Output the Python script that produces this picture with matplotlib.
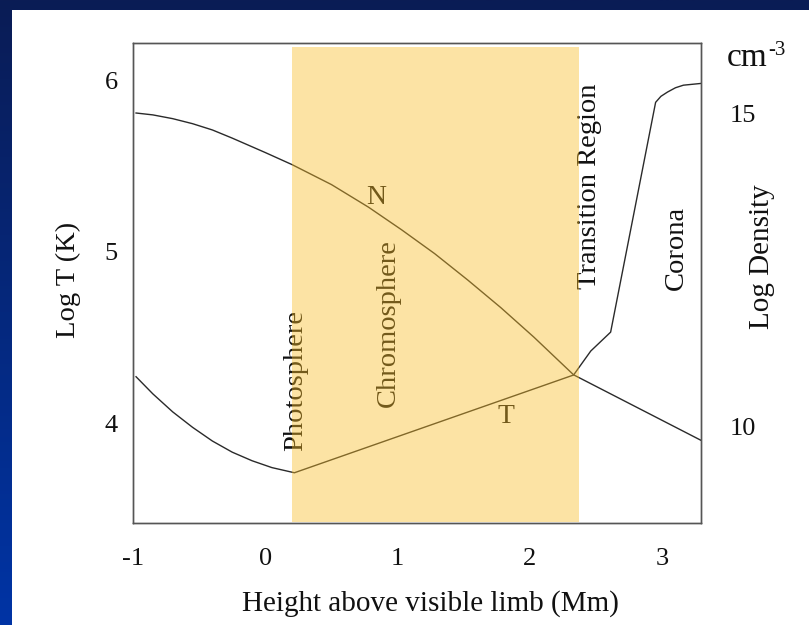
import numpy as np
import matplotlib
matplotlib.use("Agg")
import matplotlib.pyplot as plt
from matplotlib.patches import Rectangle

# ---- data ----
t_height = [-0.977, -0.85, -0.70, -0.55, -0.40, -0.25, -0.10, 0.05, 0.22,
            2.33, 2.46, 2.61, 2.95, 2.99, 3.04, 3.10, 3.16, 3.29]
t_logT = [4.27, 4.17, 4.065, 3.975, 3.895, 3.83, 3.78, 3.74, 3.71,
          4.28, 4.42, 4.53, 5.87, 5.905, 5.93, 5.955, 5.97, 5.98]

n_height = [-0.977, -0.85, -0.70, -0.55, -0.40, -0.25, 0.0, 0.20, 0.50, 0.78,
            1.03, 1.28, 1.53, 1.78, 2.03, 2.33, 3.29]
n_logdens = [15.00, 14.97, 14.91, 14.83, 14.73, 14.60, 14.37, 14.18, 13.86, 13.50,
             13.14, 12.76, 12.34, 11.90, 11.43, 10.83, 9.79]

x_ticks = [-1, 0, 1, 2, 3]
x_ticklabels = ["-1", "0", "1", "2", "3"]
left_ticks = [4, 5, 6]
right_ticks = [10, 15]

chromo_span = (0.203, 2.368)

region_labels = ["Photosphere", "Chromosphere", "Transition Region", "Corona"]
region_pos = [(0.23, 4.25), (0.93, 4.58), (2.45, 5.38), (3.11, 5.02)]

W, H = 809, 625
plt.rcParams['font.family'] = ['Liberation Serif', 'DejaVu Serif']

fig = plt.figure(figsize=(W / 100, H / 100), dpi=100)

# background: navy gradient with white panel
bg = fig.add_axes([0, 0, 1, 1], zorder=-10)
grad = np.linspace(0, 1, 256).reshape(-1, 1)
top = np.array([10, 28, 85]) / 255
bot = np.array([0, 52, 165]) / 255
img = top[None, None, :] * (1 - grad[:, :, None]) + bot[None, None, :] * grad[:, :, None]
bg.imshow(img, aspect='auto', extent=[0, W, H, 0])
bg.add_patch(Rectangle((12, 10), W - 12, H - 10, facecolor='white', edgecolor='none'))
bg.set_xlim(0, W)
bg.set_ylim(H, 0)
bg.axis('off')

# main axes
L, R, T, B = 133, 701, 43, 523
ax = fig.add_axes([L / W, 1 - B / H, (R - L) / W, (B - T) / H])
ax.set_facecolor('none')
ax2 = ax.twinx()

ax.set_xlim(-0.977, 3.293)
ax.set_ylim(3.417, 6.216)
ax2.set_ylim(8.47, 16.115)

ax.plot(t_height, t_logT, color='#2a2a2a', lw=1.0)
ax2.plot(n_height, n_logdens, color='#2a2a2a', lw=1.0)

for a in (ax, ax2):
    for s in a.spines.values():
        s.set_color('#555555')
        s.set_linewidth(1.0)

ax.set_xticks(x_ticks)
ax.set_xticklabels(x_ticklabels)
ax.set_yticks(left_ticks)
ax2.set_yticks(right_ticks)
ax.tick_params(axis='x', length=0, pad=18, labelsize=19, labelcolor='#111111')
ax.tick_params(axis='y', length=0, pad=11, labelsize=19, labelcolor='#111111')
ax2.tick_params(axis='y', length=0, pad=21, labelsize=19, labelcolor='#111111')

ax.set_xlabel("Height above visible limb (Mm)", fontsize=21, color='#111111')
ax.xaxis.set_label_coords((430 - L) / (R - L), -(590 - B) / (B - T))
ax.set_ylabel("Log T (K)", fontsize=20.5, color='#111111')
ax.yaxis.set_label_coords(-(L - 81) / (R - L), (B - 280) / (B - T))
ax2.set_ylabel("Log Density", fontsize=21, color='#111111')
ax2.yaxis.set_label_coords((749 - L) / (R - L), (B - 257) / (B - T))

# region labels (rotated)
for lab, (hx, vy) in zip(region_labels, region_pos):
    ax2.text(hx, (vy - 3.417) / (6.216 - 3.417) * (16.115 - 8.47) + 8.47, lab,
             rotation=90, ha='center', va='center', fontsize=20.5, color='#111111', zorder=4)

ax2.text(0.84, 13.65, "N", ha='center', va='center', fontsize=20, color='#111111', zorder=4)
ax2.text(1.82, 10.16, "T", ha='center', va='center', fontsize=20, color='#111111', zorder=4)

# yellow chromosphere band, drawn on top as a tint
ax2.axvspan(chromo_span[0], chromo_span[1], ymin=0.002, ymax=0.992,
            facecolor=(250 / 255, 190 / 255, 40 / 255), alpha=0.42, lw=0, zorder=10)

# unit label
fig.text(727 / W, 1 - 66 / H, "cm", fontsize=24, color='#111111', ha='left', va='baseline')
fig.text(768 / W, 1 - 55 / H, "-3", fontsize=15, color='#111111', ha='left', va='baseline')

fig.savefig("out.png", dpi=100)
